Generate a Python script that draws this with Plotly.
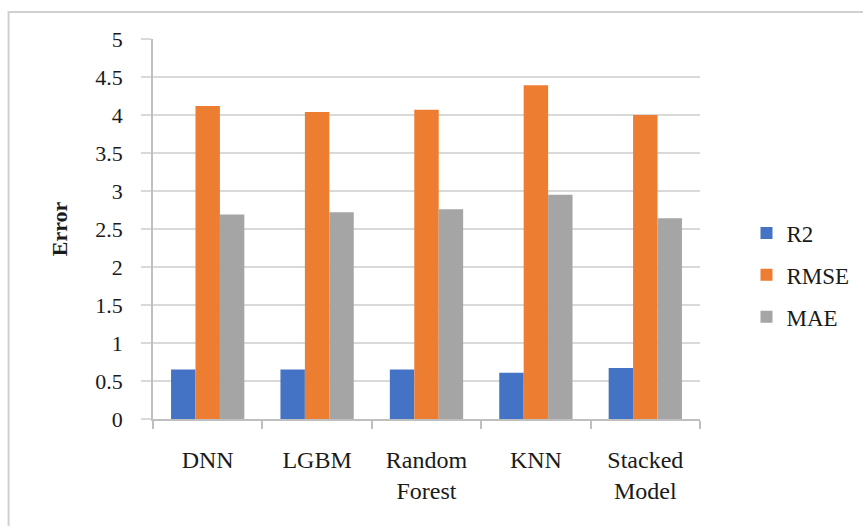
import plotly.graph_objects as go

models = ["DNN", "LGBM", "Random<br>Forest", "KNN", "Stacked<br>Model"]
r2 = [0.65, 0.65, 0.65, 0.61, 0.67]
rmse = [4.12, 4.04, 4.07, 4.39, 4.00]
mae = [2.69, 2.72, 2.76, 2.95, 2.64]
y_ticks = [0, 0.5, 1, 1.5, 2, 2.5, 3, 3.5, 4, 4.5, 5]
y_tick_text = ["0", "0.5", "1", "1.5", "2", "2.5", "3", "3.5", "4", "4.5", "5"]

FONT = "Liberation Serif"
TEXT = "#1a1a1a"
GRID = "#d9d9d9"
AXIS = "#bfbfbf"

fig = go.Figure()
for name, vals, color in [("R2", r2, "#4472C4"), ("RMSE", rmse, "#ED7D31"), ("MAE", mae, "#A5A5A5")]:
    fig.add_trace(go.Bar(name=name, x=models, y=vals, marker_color=color,
                         marker_line_width=0, legendgroup=name))

fig.update_layout(
    width=863, height=526,
    margin=dict(l=153, r=163, t=39, b=107, autoexpand=False),
    paper_bgcolor="white", plot_bgcolor="white",
    barmode="group", bargap=0.33, bargroupgap=0,
    font=dict(family=FONT, size=22, color=TEXT),
    showlegend=True,
    legend=dict(x=1.085, y=0.379, xanchor="left", yanchor="middle",
                font=dict(family=FONT, size=23, color=TEXT),
                tracegroupgap=9, bgcolor="rgba(0,0,0,0)"),
    xaxis=dict(showgrid=False, showline=True, linecolor=AXIS, linewidth=1.5,
               ticks="outside", tickson="boundaries", ticklen=8, tickcolor=AXIS,
               tickwidth=1.5, ticklabelstandoff=18,
               tickfont=dict(family=FONT, size=24, color=TEXT)),
    yaxis=dict(range=[0, 5], tickvals=y_ticks, ticktext=y_tick_text,
               showgrid=True, gridcolor=GRID, gridwidth=1.5,
               showline=True, linecolor=AXIS, linewidth=1.5,
               ticks="outside", ticklen=10, tickcolor=GRID, tickwidth=1.5,
               ticklabelstandoff=14, zeroline=False,
               tickfont=dict(family=FONT, size=22, color=TEXT),
               title=dict(text="<b>Error</b>", standoff=22,
                          font=dict(family=FONT, size=22, color=TEXT))),
    shapes=[dict(type="rect", xref="paper", yref="paper",
                 x0=-0.264, x1=1.7, y0=-0.6, y1=1.071,
                 line=dict(color="#d0d0d0", width=2), layer="below")],
)

fig.write_html("out.html")
